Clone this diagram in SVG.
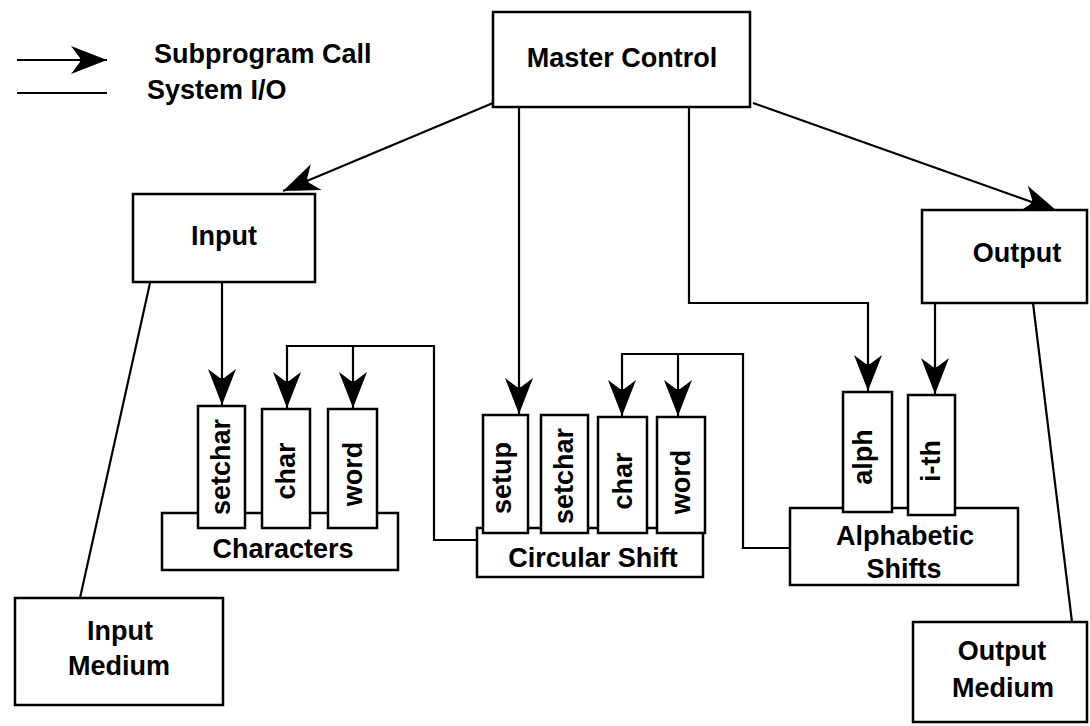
<svg xmlns="http://www.w3.org/2000/svg" width="1090" height="726" viewBox="0 0 1090 726">
<style>
  .box { fill: #ffffff; stroke: #000000; stroke-width: 2.5; }
  .ln { fill: none; stroke: #000000; stroke-width: 2.2; }
  .t { font-family: "Liberation Sans", Arial, sans-serif; font-weight: bold; font-size: 27px; fill: #000000; text-anchor: middle; }
  .tl { font-family: "Liberation Sans", Arial, sans-serif; font-weight: bold; font-size: 27px; fill: #000000; }
</style>
<defs>
  <marker id="arr" markerUnits="userSpaceOnUse" markerWidth="42" markerHeight="32" viewBox="-38 -16 42 32" refX="0" refY="0" orient="auto">
    <path d="M0,0 L-36,-14 L-27,-2 L-27,2 L-36,14 Z" fill="#000000"/>
  </marker>
</defs>
<rect width="1090" height="726" fill="#ffffff"/>

<g id="legend">
  <line class="ln" x1="17" y1="60" x2="107" y2="60" marker-end="url(#arr)"/>
  <line class="ln" x1="17" y1="93" x2="107" y2="93"/>
  <text class="tl" x="154" y="63">Subprogram Call</text>
  <text class="tl" x="147" y="99">System I/O</text>
</g>

<g id="connectors">
  <line class="ln" x1="493" y1="103" x2="283" y2="191" marker-end="url(#arr)"/>
  <line class="ln" x1="753" y1="103" x2="1057" y2="211" marker-end="url(#arr)"/>
  <line class="ln" x1="519" y1="107" x2="519" y2="414" marker-end="url(#arr)"/>
  <polyline class="ln" points="689,107 689,303 868,303 868,391" marker-end="url(#arr)"/>
  <line class="ln" x1="935" y1="303" x2="935" y2="394" marker-end="url(#arr)"/>
  <line class="ln" x1="222" y1="282" x2="222" y2="405" marker-end="url(#arr)"/>
  <polyline class="ln" points="477,540 434,540 434,346 287,346 287,408" marker-end="url(#arr)"/>
  <line class="ln" x1="353" y1="346" x2="353" y2="408" marker-end="url(#arr)"/>
  <polyline class="ln" points="790,548 743,548 743,354 622,354 622,416" marker-end="url(#arr)"/>
  <line class="ln" x1="678" y1="354" x2="678" y2="416" marker-end="url(#arr)"/>
  <line class="ln" x1="150" y1="283" x2="80" y2="598"/>
  <line class="ln" x1="1033" y1="303" x2="1072" y2="622"/>
</g>

<g id="master-control">
  <rect class="box" x="493" y="12" width="257" height="95"/>
  <text class="t" x="622" y="67">Master Control</text>
</g>

<g id="input">
  <rect class="box" x="133" y="194" width="182" height="88"/>
  <text class="t" x="224" y="245">Input</text>
</g>

<g id="output">
  <rect class="box" x="922" y="210" width="165" height="93"/>
  <text class="t" x="1017" y="262">Output</text>
</g>

<g id="input-medium">
  <rect class="box" x="15" y="598" width="208" height="107"/>
  <text class="t" x="120" y="640">Input</text>
  <text class="t" x="119" y="675">Medium</text>
</g>

<g id="output-medium">
  <rect class="box" x="913" y="622" width="174" height="100"/>
  <text class="t" x="1002" y="660">Output</text>
  <text class="t" x="1003" y="697">Medium</text>
</g>

<g id="characters">
  <rect class="box" x="162" y="513" width="236" height="57"/>
  <text class="t" x="283" y="558">Characters</text>
</g>
<g id="characters-setchar">
  <rect class="box" x="198" y="406" width="47" height="122"/>
  <text class="t" transform="translate(230,467) rotate(-90)">setchar</text>
</g>
<g id="characters-char">
  <rect class="box" x="262" y="409" width="48" height="119"/>
  <text class="t" transform="translate(295,471) rotate(-90)">char</text>
</g>
<g id="characters-word">
  <rect class="box" x="328" y="409" width="49" height="119"/>
  <text class="t" transform="translate(362,474) rotate(-90)">word</text>
</g>

<g id="circular-shift">
  <rect class="box" x="477" y="528" width="226" height="49"/>
  <text class="t" x="593" y="567">Circular Shift</text>
</g>
<g id="circular-setup">
  <rect class="box" x="483" y="415" width="45" height="118"/>
  <text class="t" transform="translate(511,478) rotate(-90)">setup</text>
</g>
<g id="circular-setchar">
  <rect class="box" x="541" y="415" width="47" height="118"/>
  <text class="t" transform="translate(573,476) rotate(-90)">setchar</text>
</g>
<g id="circular-char">
  <rect class="box" x="598" y="417" width="49" height="116"/>
  <text class="t" transform="translate(632,481) rotate(-90)">char</text>
</g>
<g id="circular-word">
  <rect class="box" x="657" y="417" width="48" height="116"/>
  <text class="t" transform="translate(690,482) rotate(-90)">word</text>
</g>

<g id="alphabetic-shifts">
  <rect class="box" x="790" y="508" width="228" height="77"/>
  <text class="t" x="905" y="545">Alphabetic</text>
  <text class="t" x="904" y="578">Shifts</text>
</g>
<g id="alphabetic-alph">
  <rect class="box" x="843" y="392" width="49" height="120"/>
  <text class="t" transform="translate(872,457) rotate(-90)">alph</text>
</g>
<g id="alphabetic-ith">
  <rect class="box" x="908" y="395" width="47" height="120"/>
  <text class="t" transform="translate(940,461) rotate(-90)">i-th</text>
</g>
</svg>
